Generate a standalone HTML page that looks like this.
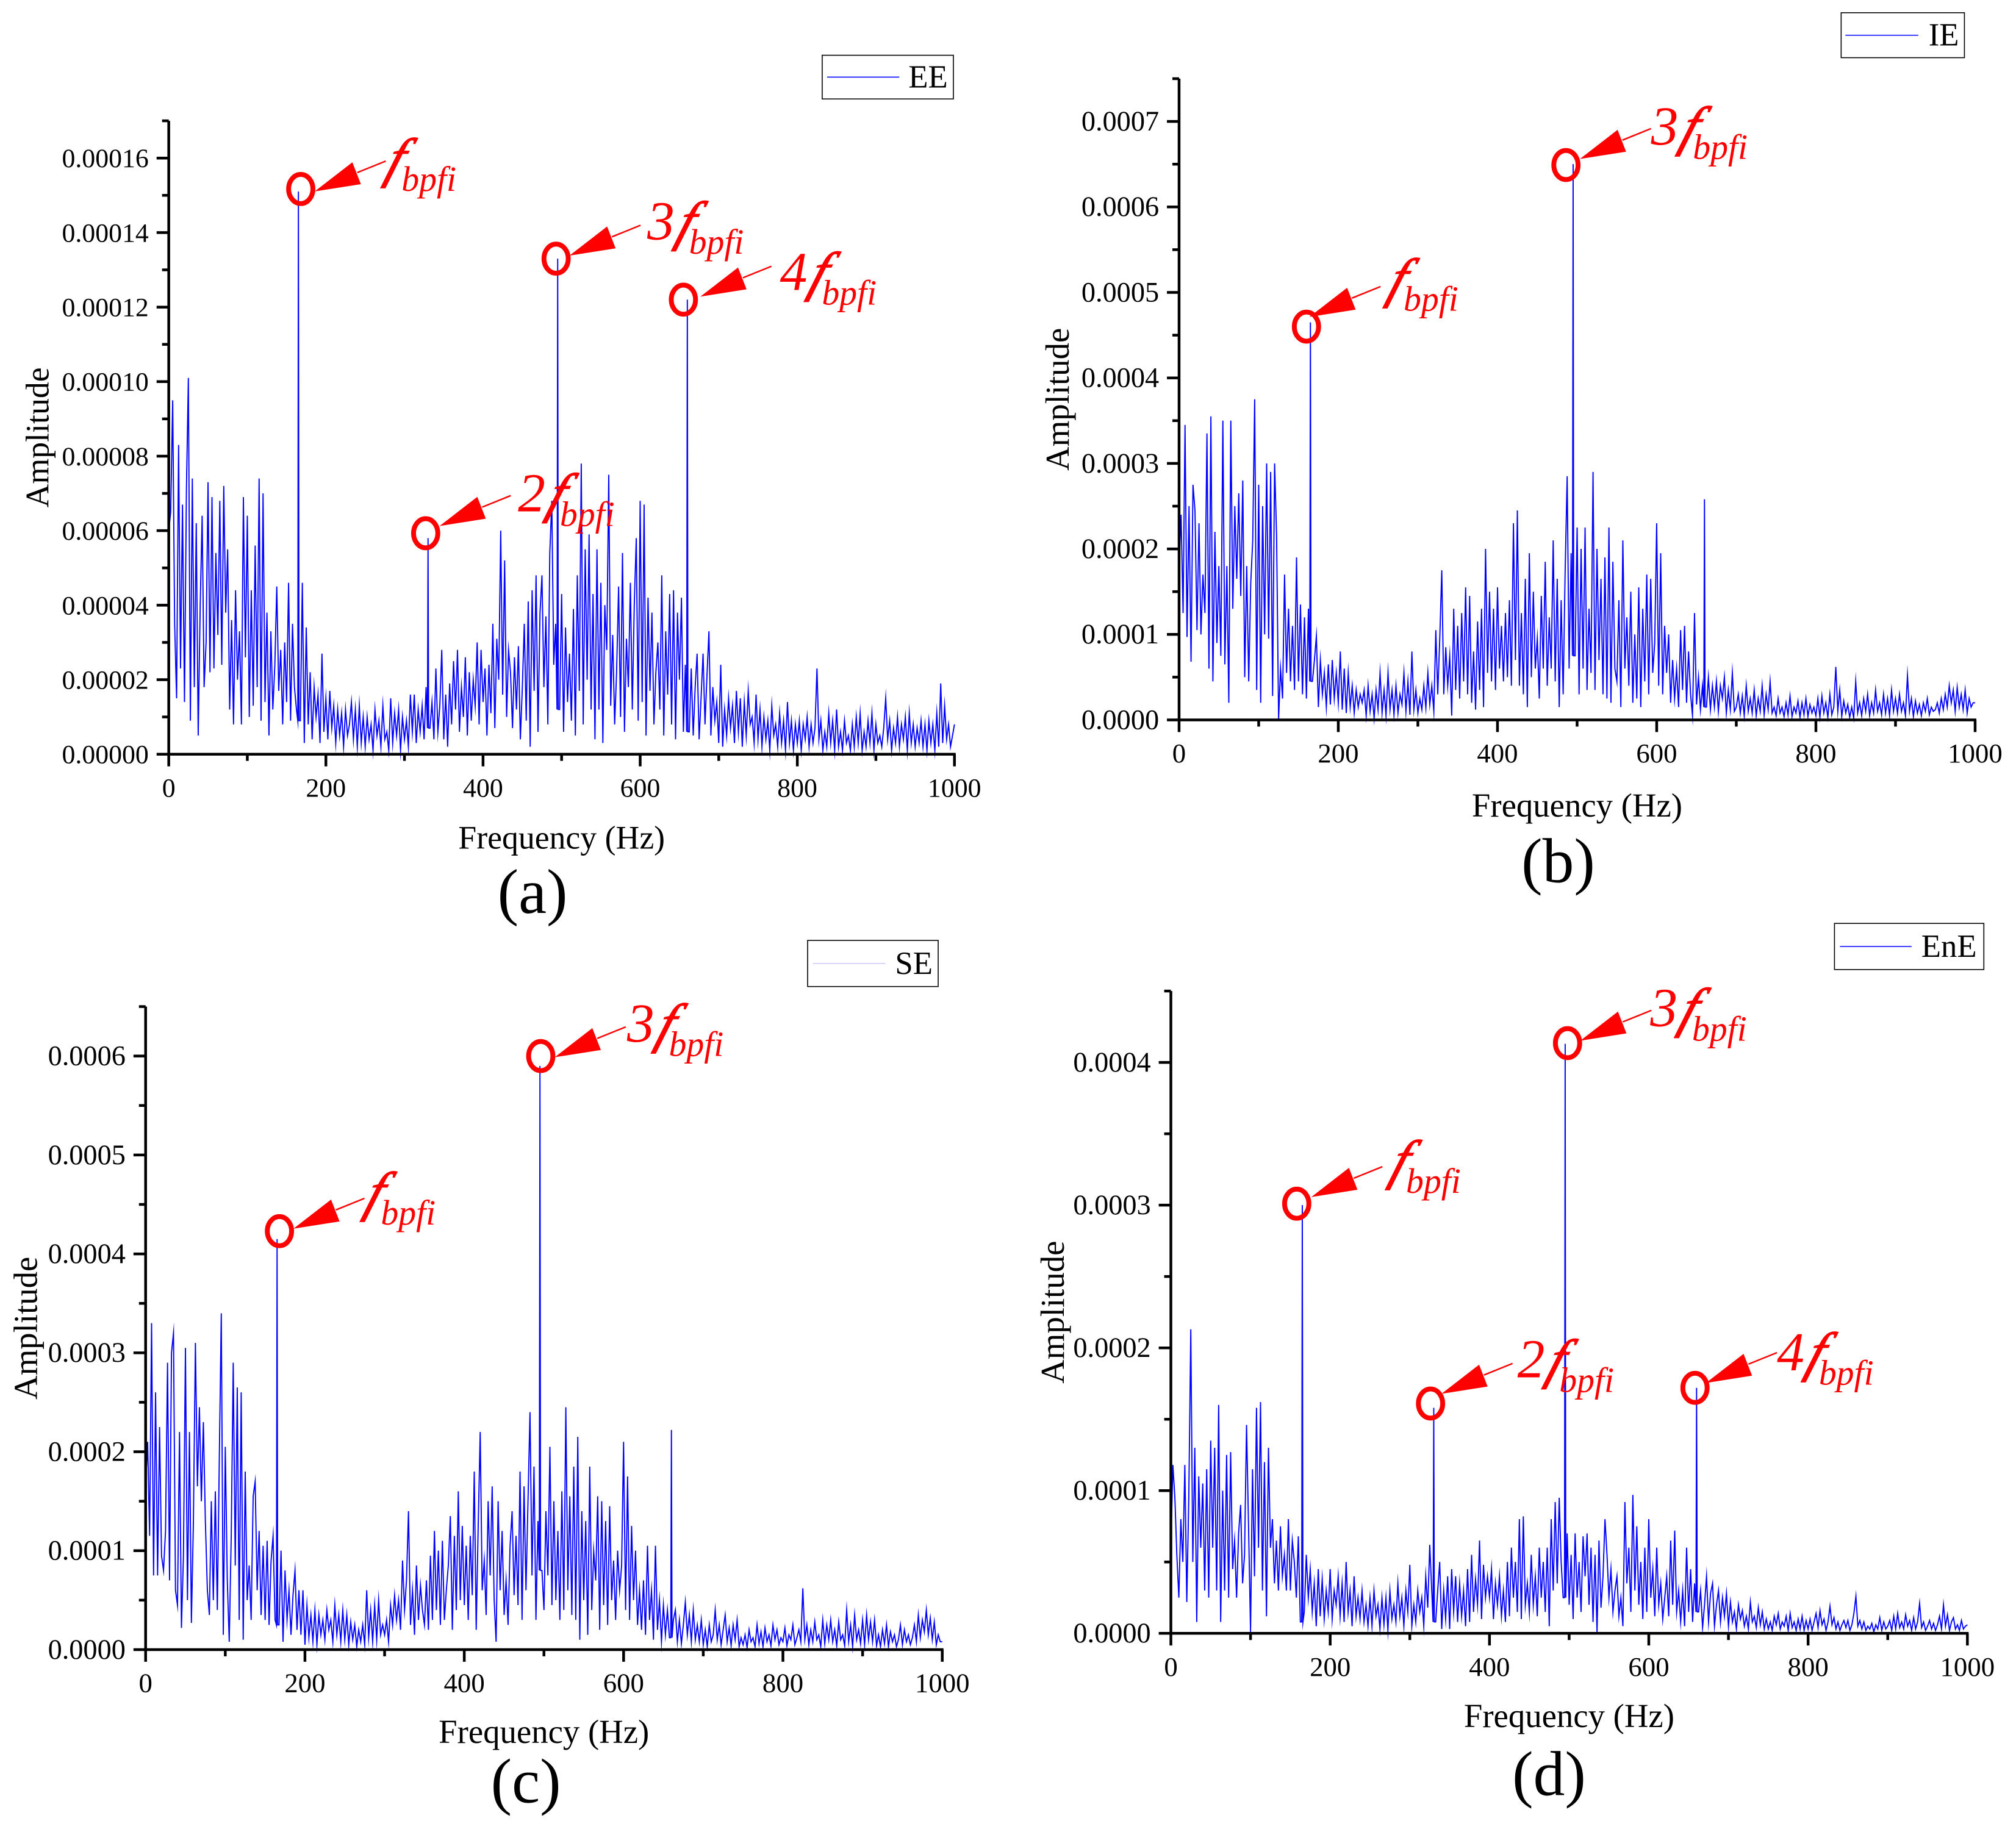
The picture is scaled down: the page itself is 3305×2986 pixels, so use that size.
<!DOCTYPE html>
<html>
<head>
<meta charset="utf-8">
<title>Amplitude spectra EE IE SE EnE</title>
<style>
html,body{margin:0;padding:0;background:#fff;}
svg{display:block;}
text{font-family:"Liberation Serif",serif;}
</style>
</head>
<body>
<svg id="figure" xmlns="http://www.w3.org/2000/svg" width="3305" height="2986" viewBox="0 0 3305 2986">
<rect x="0" y="0" width="3305" height="2986" fill="#fff"/>
<g id="stage" transform="scale(0.9955)"></g>
</svg>
<script>
// Spectrum sampling step, Hz
const freqStep = 2.5;
// Amplitude unit of the value arrays
const ampUnit = 1e-6;

const xTickLabels = ['0','200','400','600','800','1000'];
const xMinorTicks = [100,300,500,700,900];

const eeYTickLabels = ['0.00000','0.00002','0.00004','0.00006','0.00008','0.00010','0.00012','0.00014','0.00016'];
const eeYMinorTicks = [0.00001,0.00003,0.00005,0.00007,0.00009,0.00011,0.00013,0.00015,0.00017];
const ieYTickLabels = ['0.0000','0.0001','0.0002','0.0003','0.0004','0.0005','0.0006','0.0007'];
const ieYMinorTicks = [0.00005,0.00015,0.00025,0.00035,0.00045,0.00055,0.00065,0.00075];
const seYTickLabels = ['0.0000','0.0001','0.0002','0.0003','0.0004','0.0005','0.0006'];
const seYMinorTicks = [0.00005,0.00015,0.00025,0.00035,0.00045,0.00055,0.00065];
const eneYTickLabels = ['0.0000','0.0001','0.0002','0.0003','0.0004'];
const eneYMinorTicks = [0.00005,0.00015,0.00025,0.00035,0.00045];

const eeValues = [
60,65,95,35,15,83,23,67,14,71,101,9,74,18,62,5,40,64,18,30,
73,22,69,23,54,32,68,24,72,38,55,12,36,8,44,20,33,8,69,26,
64,10,44,13,56,18,74,9,70,14,38,5,33,12,24,45,17,28,8,30,
14,46,9,35,18,12,151,9,46,3,34,8,22,4,18,10,16,3,27,6,
15,4,17,7,13,3,12,5,11,2,12,5,8,14,4,12,2,13,3,10,
2,10,4,8,1,12,5,9,2,13,4,6,1,15,3,11,5,12,1,10,
4,9,2,16,6,16,3,12,6,13,4,18,58,7,14,4,23,6,13,28,
4,16,2,19,8,25,12,28,6,18,10,26,5,22,9,20,13,30,8,28,
14,23,5,24,11,35,7,31,20,60,16,52,10,28,22,7,26,12,29,4,
18,35,9,41,2,44,17,48,6,38,48,18,37,8,54,68,24,35,133,12,
43,6,34,14,27,9,39,5,48,17,78,8,55,20,59,12,43,4,55,12,
46,3,40,28,75,13,32,8,22,45,10,54,6,31,18,46,12,40,58,9,
68,14,67,5,42,17,38,8,22,30,12,48,5,33,16,43,8,44,4,38,
20,42,6,24,122,6,23,5,18,27,4,15,27,8,21,33,5,18,9,14,
3,24,2,12,5,15,7,13,3,17,6,15,2,14,5,17,8,10,3,16,
4,12,2,10,4,9,1,13,5,8,2,11,3,9,1,14,3,9,1,8,
3,9,1,8,4,10,2,8,3,7,23,4,9,1,6,2,11,3,9,1,
12,2,6,1,9,3,5,1,8,2,10,3,11,1,6,2,9,3,11,1,
8,3,5,2,7,15,4,9,1,7,3,10,2,8,4,10,1,11,3,8,
2,7,3,9,2,8,1,9,3,8,1,11,2,19,3,13,4,8,2,5,
8];

const ieValues = [
180,240,125,345,97,250,68,275,245,105,230,100,170,125,335,60,355,45,220,90,
180,75,350,65,180,20,350,130,250,165,265,145,280,50,180,45,160,210,375,35,
275,20,250,100,300,95,290,28,300,215,1,60,25,170,55,130,45,110,35,190,
45,135,30,120,25,130,465,45,70,98,15,70,30,55,15,65,18,70,25,55,
20,80,12,60,8,55,15,40,8,35,15,30,20,35,5,40,10,30,2,35,
12,55,8,35,5,55,12,35,6,40,8,30,18,55,10,45,6,80,12,35,
8,25,12,40,14,55,18,40,10,105,30,95,175,30,85,40,75,5,130,35,
110,25,125,45,155,30,145,20,80,12,115,35,130,15,200,55,150,45,130,35,
155,60,110,45,125,50,140,40,230,70,245,40,125,30,165,15,195,50,150,60,
95,25,145,60,185,40,120,60,210,45,165,15,140,30,175,285,60,195,650,75,
225,30,200,60,225,35,130,55,290,35,200,70,165,30,190,25,225,20,185,60,
45,140,15,210,60,120,40,150,20,100,25,155,15,130,45,170,30,165,55,90,
230,40,195,30,110,55,100,20,70,25,60,15,105,35,110,20,80,30,5,125,
18,50,12,40,258,15,50,12,40,15,45,10,40,25,50,8,35,12,55,10,
15,30,8,28,5,40,10,25,8,35,5,25,10,40,6,30,12,45,8,15,
5,25,8,15,4,20,6,28,4,15,8,22,3,20,6,25,4,18,8,15,
5,25,3,28,8,20,3,30,6,15,62,10,35,4,22,8,18,3,15,2,
45,8,20,5,25,10,30,5,20,8,35,10,20,6,30,8,25,5,35,10,
25,8,30,10,20,5,52,10,25,4,22,8,18,5,20,10,25,6,15,10,
12,20,8,25,12,30,15,40,20,35,10,38,15,30,12,35,8,25,15,20,
20];

const seValues = [
165,210,115,330,75,260,75,225,95,80,120,290,70,300,320,60,45,220,22,95,
305,50,220,27,130,310,165,245,150,230,130,60,35,150,50,160,40,195,340,15,
205,70,8,115,290,85,265,30,260,10,180,50,85,30,155,170,60,120,35,105,
30,110,25,90,115,30,415,25,100,8,80,30,60,15,55,80,20,60,15,60,
5,45,12,35,8,40,5,35,15,30,10,40,20,30,8,45,15,35,8,40,
10,35,5,28,10,25,3,20,8,25,5,60,12,40,8,45,10,50,15,25,
15,30,8,45,25,55,30,50,20,90,40,70,140,25,60,15,85,30,65,40,
25,70,20,95,30,120,40,100,25,110,30,60,85,135,20,115,40,160,50,125,
45,105,30,115,55,180,20,125,220,60,90,35,150,75,165,50,8,150,60,120,
35,70,25,105,140,55,115,45,180,30,165,60,150,240,75,185,30,130,590,80,
40,140,75,205,45,150,50,120,30,160,40,245,60,155,35,185,30,215,10,140,
50,130,15,185,40,100,70,155,20,150,45,130,25,145,50,90,30,100,60,85,
210,40,175,30,125,50,100,25,60,20,70,15,105,30,60,10,105,20,50,8,
45,15,40,12,222,30,40,8,30,6,25,48,15,35,8,40,10,25,8,30,
5,20,3,25,8,15,40,10,25,5,20,35,8,22,4,25,10,30,3,12,
5,15,2,20,8,12,3,25,6,18,3,22,8,15,4,25,10,20,5,12,
8,22,4,15,10,25,5,12,20,8,62,10,25,5,20,8,28,10,15,3,
30,6,25,10,30,8,20,4,28,10,15,4,40,8,25,3,35,10,20,6,
30,5,35,10,28,8,30,4,15,3,20,6,25,3,18,8,15,3,10,25,
5,20,8,15,5,12,25,8,35,12,30,18,40,15,32,10,28,5,15,8,
8];

const eneValues = [
60,118,95,55,25,80,50,118,22,95,213,50,130,8,110,60,105,30,115,25,
135,60,130,30,160,8,100,30,125,25,127,45,65,25,70,90,35,55,146,75,
1,115,40,158,60,162,30,120,12,130,60,80,35,65,30,75,40,55,30,80,
30,65,50,25,68,8,300,15,55,25,45,15,35,5,45,12,38,10,30,15,
45,10,30,20,40,12,35,8,50,15,30,5,40,12,25,10,30,8,20,5,
25,5,30,12,20,3,25,6,25,2,30,10,20,8,35,12,25,5,30,15,
48,5,20,8,30,15,25,5,40,18,62,30,158,8,30,50,3,30,10,40,
3,45,15,40,8,35,12,30,5,45,8,55,15,38,20,65,10,48,25,40,
25,45,10,35,20,40,12,30,8,50,12,60,25,50,15,80,10,82,20,35,
15,55,20,40,12,60,25,50,15,60,5,80,30,92,35,95,50,25,413,70,
20,55,10,70,25,50,15,68,40,70,20,60,8,55,1,65,18,40,80,55,
25,45,15,30,40,12,25,5,92,35,60,15,97,30,75,20,50,10,60,15,
80,25,45,12,60,20,35,10,25,40,12,65,20,72,15,30,8,30,5,60,
15,45,8,35,172,15,30,4,20,40,8,28,35,5,20,30,8,25,12,28,
5,22,8,15,3,20,10,16,5,12,3,22,8,12,4,18,6,15,3,10,
3,8,2,12,6,14,3,8,5,12,2,14,4,8,2,10,3,12,2,9,
3,10,2,8,14,4,16,6,10,2,8,19,6,11,3,8,2,6,9,4,
9,2,6,14,26,5,9,3,8,2,5,3,7,1,6,3,11,2,8,3,
5,9,2,12,3,14,4,8,3,13,5,9,2,11,3,8,21,4,8,2,
5,9,3,7,2,6,12,3,20,5,13,2,8,11,3,6,2,9,3,5,
6];

// Frequencies (Hz) of the sharp line components in each spectrum
const eeSpikeFreqs = [165,330,495,660];
const ieSpikeFreqs = [165,495,660];
const seSpikeFreqs = [165,495,660];
const eneSpikeFreqs = [165,330,495,660];

// Annotated harmonics: frequency (Hz), amplitude (ampUnit), label prefix
const eePeakFreqs = [168,327,493,655];
const eePeakAmps = [151.7,59.3,133,122];
const eePeakPrefixes = ['','2','3','4'];
const iePeakFreqs = [160,486];
const iePeakAmps = [460,649];
const iePeakPrefixes = ['','3'];
const sePeakFreqs = [168,496];
const sePeakAmps = [423,600];
const sePeakPrefixes = ['','3'];
const enePeakFreqs = [158,326,498,658];
const enePeakAmps = [301,161,413.5,172];
const enePeakPrefixes = ['','2','3','4'];

// Layout (pixels) -- not data
const panels = [
 {id:'a',name:'EE',values:eeValues,spikes:eeSpikeFreqs,yLabels:eeYTickLabels,yMinor:eeYMinorTicks,
  peakF:eePeakFreqs,peakA:eePeakAmps,peakP:eePeakPrefixes,yFont:44,xFont:44,titleFont:54,
  x0:277.9,x1:1571.8,y0:1242.3,yTop:199,yMax:0.00017,
  tip:[[23,4],[23,-12],[22,-5],[28,-5]],lab:[[123,-21],[152,-36],[150,-32],[159,-16]],
  yTitleX:80,xTitleY:1398,sub:[877,1504],
  leg:{x:1354,y:91,w:216,h:72,lx0:1362,lx1:1481,tx:1496,color:'#0000ff',lw:1.6}},
 {id:'b',name:'IE',values:ieValues,spikes:ieSpikeFreqs,yLabels:ieYTickLabels,yMinor:ieYMinorTicks,
  peakF:iePeakFreqs,peakA:iePeakAmps,peakP:iePeakPrefixes,yFont:46.5,xFont:45,titleFont:55,
  x0:1941.7,x1:3252.6,y0:1185.8,yTop:129.6,yMax:0.00075,
  tip:[[5,-16],[23,-10]],lab:[[117,-50],[140,-34]],
  yTitleX:1760,xTitleY:1345,sub:[2566,1453],
  leg:{x:3032,y:21,w:203,h:74,lx0:3039,lx1:3159,tx:3176,color:'#0000ff',lw:1.6}},
 {id:'c',name:'SE',values:seValues,spikes:seSpikeFreqs,yLabels:seYTickLabels,yMinor:seYMinorTicks,
  peakF:sePeakFreqs,peakA:sePeakAmps,peakP:sePeakPrefixes,yFont:46.5,xFont:45,titleFont:55,
  x0:239.8,x1:1551.7,y0:2717.2,yTop:1658,yMax:0.00065,
  tip:[[23,-4],[23,2]],lab:[[124,-35],[142,-24]],
  yTitleX:61,xTitleY:2871,sub:[866,2969],
  leg:{x:1330,y:1549,w:215,h:76,lx0:1339,lx1:1458,tx:1474,color:'#c4c4ff',lw:1.4}},
 {id:'d',name:'EnE',values:eneValues,spikes:eneSpikeFreqs,yLabels:eneYTickLabels,yMinor:eneYMinorTicks,
  peakF:enePeakFreqs,peakA:enePeakAmps,peakP:enePeakPrefixes,yFont:46.5,xFont:45,titleFont:55,
  x0:1928.2,x1:3239.9,y0:2690.4,yTop:1632.4,yMax:0.00045,
  tip:[[24,-11],[18,-16],[21,-4],[18,-8]],lab:[[137,-42],[143,-43],[136,-28],[135,-29]],
  yTitleX:1752,xTitleY:2845,sub:[2551,2957],
  leg:{x:3021,y:1521,w:246,h:76,lx0:3030,lx1:3148,tx:3164,color:'#0000ff',lw:1.6}}
];

const stage = document.getElementById('stage');
const NS = 'http://www.w3.org/2000/svg';
function mk(tag, parent, attrs, txt){
  const el = document.createElementNS(NS, tag);
  for (const k in attrs) el.setAttribute(k, attrs[k]);
  if (txt !== undefined) el.textContent = txt;
  parent.appendChild(el);
  return el;
}

panels.forEach(function(p){
  const xScale = function(f){ return p.x0 + (f/1000)*(p.x1-p.x0); };
  const yScale = function(a){ return p.y0 - (a/p.yMax)*(p.y0-p.yTop); };

  const g = mk('g', stage, {});
  
  

  // Series: line components are drawn narrow, all other samples directly
  const spikeIdx = p.spikes.map(function(f){ return Math.round(f/freqStep); });
  const pts = [];
  p.values.forEach(function(v,i){
    const f = i*freqStep;
    if (spikeIdx.indexOf(i) >= 0){
      const low = Math.min(p.values[i-1], p.values[i+1]);
      pts.push([f-0.8, low], [f, v], [f+0.8, low]);
    } else {
      pts.push([f, v]);
    }
  });
  const d = pts.map(function(q,i){
    return (i?'L':'M') + xScale(q[0]).toFixed(1) + ' ' + yScale(q[1]*ampUnit).toFixed(1);
  }).join('');
  const line = mk('path', g, {d:d,fill:'none',stroke:'#0000ff','stroke-width':1.9,'stroke-linejoin':'miter','stroke-miterlimit':20});
  
  

  // Axes
  const axisAttrs = {stroke:'#000','stroke-width':4.5,fill:'none'};
  const yAxis = mk('line', g, Object.assign({x1:p.x0,x2:p.x0,y1:p.yTop,y2:p.y0+2}, axisAttrs));
  
  
  const xAxis = mk('line', g, Object.assign({x1:p.x0-2,x2:p.x1+2,y1:p.y0,y2:p.y0}, axisAttrs));
  
  

  xTickLabels.forEach(function(lbl){
    const x = xScale(Number(lbl));
    const t = mk('line', g, Object.assign({x1:x,x2:x,y1:p.y0,y2:p.y0+20}, axisAttrs));
    
    
    const l = mk('text', g, {x:x,y:p.y0+70,'font-size':p.xFont,'text-anchor':'middle',fill:'#000'}, lbl);
    
    
  });
  xMinorTicks.forEach(function(v){
    const x = xScale(v);
    const t = mk('line', g, Object.assign({x1:x,x2:x,y1:p.y0,y2:p.y0+11}, axisAttrs));
    
    
  });
  p.yLabels.forEach(function(lbl){
    const y = yScale(Number(lbl));
    const t = mk('line', g, Object.assign({x1:p.x0-20,x2:p.x0,y1:y,y2:y}, axisAttrs));
    
    
    const l = mk('text', g, {x:p.x0-33,y:y+15,'font-size':p.yFont,'text-anchor':'end',fill:'#000'}, lbl);
    
    
  });
  p.yMinor.forEach(function(v){
    const y = yScale(v);
    const t = mk('line', g, Object.assign({x1:p.x0-11,x2:p.x0,y1:y,y2:y}, axisAttrs));
    
    
  });

  // Titles
  const xt = mk('text', g, {x:(p.x0+p.x1)/2,y:p.xTitleY,'font-size':p.titleFont,'text-anchor':'middle',fill:'#000'}, 'Frequency (Hz)');
  
  
  const cy = (p.y0+p.yTop)/2;
  const yt = mk('text', g, {x:0,y:0,'font-size':p.titleFont,'text-anchor':'middle',fill:'#000',transform:'translate('+p.yTitleX+' '+cy+') rotate(-90)'}, 'Amplitude');
  
  
  const sl = mk('text', g, {x:p.sub[0],y:p.sub[1],'font-size':104,'text-anchor':'middle',fill:'#000'}, '('+p.id+')');
  
  

  // Legend
  const lg = p.leg;
  const box = mk('rect', g, {x:lg.x,y:lg.y,width:lg.w,height:lg.h,fill:'#fff',stroke:'#000','stroke-width':1.6});
  
  
  const ly = lg.y + lg.h/2;
  const sw = mk('line', g, {x1:lg.lx0,x2:lg.lx1,y1:ly,y2:ly,stroke:lg.color,'stroke-width':lg.lw});
  
  
  const lt = mk('text', g, {x:lg.tx,y:ly+17,'font-size':53,fill:'#000'}, p.name);
  
  

  // Harmonic annotations
  p.peakF.forEach(function(f,i){
    const cx = xScale(f), cyy = yScale(p.peakA[i]*ampUnit);
    const tx = cx + p.tip[i][0], ty = cyy + p.tip[i][1];
    const ag = mk('g', g, {});
    
    
    const c = mk('ellipse', ag, {cx:cx,cy:cyy,rx:20,ry:24,fill:'none',stroke:'#ff0000','stroke-width':8});
    
    
    const head = mk('polygon', ag, {points:[tx,ty,tx+62,ty-48,tx+76,ty-12].join(' '),fill:'#ff0000'});
    
    
    const shaft = mk('line', ag, {x1:tx+70,y1:ty-31,x2:tx+117,y2:ty-50,stroke:'#ff0000','stroke-width':2.5});
    
    

    const lx = cx + p.lab[i][0], ly2 = cyy + p.lab[i][1];
    const hasPrefix = p.peakP[i] !== '';
    if (hasPrefix){
      const pre = mk('text', ag, {x:lx,y:ly2,'font-size':90,'font-style':'italic',fill:'#ff0000'}, p.peakP[i]);
      
      
    }
    const fx = lx + (hasPrefix ? 45 : 14);
    const fg = mk('text', ag, {'font-size':90,'font-style':'italic',fill:'#ff0000',stroke:'#ff0000','stroke-width':1.6,transform:'translate('+fx+' '+ly2+') skewX(-18)'}, 'f');
    
    
    const sb = mk('text', ag, {x:lx+(hasPrefix ? 69 : 43),y:ly2+24,'font-size':58,'font-style':'italic',fill:'#ff0000'}, 'bpfi');
    
    
  });
});
</script>
</body>
</html>
